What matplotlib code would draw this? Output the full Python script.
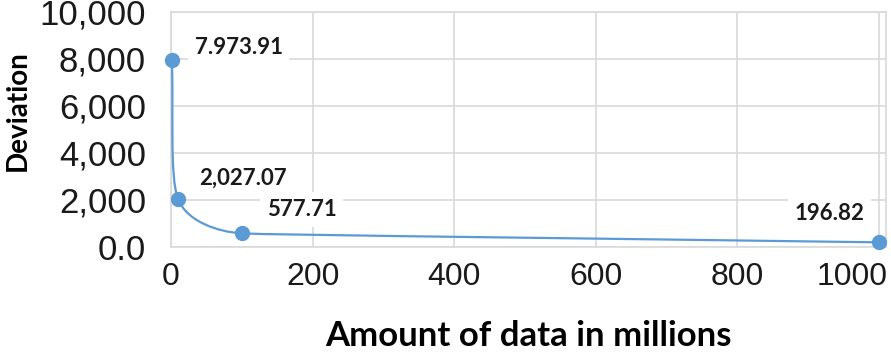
import numpy as np
import matplotlib.pyplot as plt
from matplotlib.path import Path
import matplotlib.patches as patches
from matplotlib.transforms import ScaledTranslation

# data
amount = [1, 10, 100, 1000]          # millions
deviation = [7973.91, 2027.07, 577.71, 196.82]
point_labels = ['7.973.91', '2,027.07', '577.71', '196.82']
x_ticks = [0, 200, 400, 600, 800, 1000]
y_ticks = [0, 2000, 4000, 6000, 8000, 10000]
y_tick_labels = ['0.0', '2,000', '4,000', '6,000', '8,000', '10,000']

blue = '#5b9bd5'
grid = '#d9d9d9'

fig = plt.figure(figsize=(8.91, 3.6), dpi=100)
ax = fig.add_axes([0.192, 0.314, 0.802, 0.653])
ax.set_xlim(0, 1010)
ax.set_ylim(0, 10000)


def smooth_path(xs, ys, sx, sy):
    # excel-like smoothed line: cubic bezier, tangents from neighbours,
    # handle length = shorter adjacent chord / 3 (worked out in pixel-ish space)
    P = np.column_stack([np.array(xs) * sx, np.array(ys) * sy])
    n = len(P)
    tang = []
    for i in range(n):
        a = P[max(i - 1, 0)]
        b = P[min(i + 1, n - 1)]
        d = b - a
        tang.append(d / np.hypot(*d))
    chords = [np.hypot(*(P[i + 1] - P[i])) for i in range(n - 1)]
    verts = [P[0]]
    codes = [Path.MOVETO]
    for i in range(n - 1):
        l0 = min(chords[i], chords[i - 1] if i > 0 else chords[i]) / 3
        l1 = min(chords[i], chords[i + 1] if i + 1 < n - 1 else chords[i]) / 3
        verts += [P[i] + tang[i] * l0, P[i + 1] - tang[i + 1] * l1, P[i + 1]]
        codes += [Path.CURVE4] * 3
    verts = np.array(verts) / [sx, sy]
    return Path(verts, codes)


path = smooth_path(amount, deviation, 0.708, 0.0235)
ax.add_patch(patches.PathPatch(path, fill=False, edgecolor=blue, linewidth=1.6, zorder=3))
ax.plot(amount, deviation, 'o', color=blue, markersize=10, zorder=4, clip_on=False)

offsets = [(23, 12, 'left'), (21, 21, 'left'), (25, 24, 'left'), (-14, 29, 'right')]
for x, y, lab, (dx, dy, ha) in zip(amount, deviation, point_labels, offsets):
    ax.annotate(lab, (x, y), xytext=(dx, dy), textcoords='offset pixels',
                ha=ha, va='center', fontsize=16, fontweight='bold', family='Lato',
                color='#1a1a1a', zorder=5,
                bbox=dict(boxstyle='square,pad=0.3', fc='white', ec='none'))

ax.set_xticks(x_ticks)
ax.set_xticklabels([str(t) for t in x_ticks], family='Liberation Sans', fontsize=23)
ax.set_yticks(y_ticks)
ax.set_yticklabels(y_tick_labels, family='Liberation Sans', fontsize=25)
ax.tick_params(axis='x', length=0, pad=11, colors='#1a1a1a')
ax.tick_params(axis='y', length=0, pad=18, colors='#1a1a1a')

# last x label sits pulled in, like the original
last = ax.get_xticklabels()[-1]
last.set_transform(last.get_transform() + ScaledTranslation(-0.26, 0, fig.dpi_scale_trans))

ax.grid(True, color=grid, linewidth=1.2, zorder=0)
ax.set_axisbelow(True)
for s in ax.spines.values():
    s.set_color(grid)
    s.set_linewidth(1.2)

ax.set_xlabel('Amount of data in millions', family='Lato', fontweight='bold',
              fontsize=25, labelpad=20)
ax.set_ylabel('Deviation', family='Lato', fontweight='bold', fontsize=20)
ax.yaxis.set_label_coords(-0.196, 0.58)

plt.savefig('out.png', dpi=100)
